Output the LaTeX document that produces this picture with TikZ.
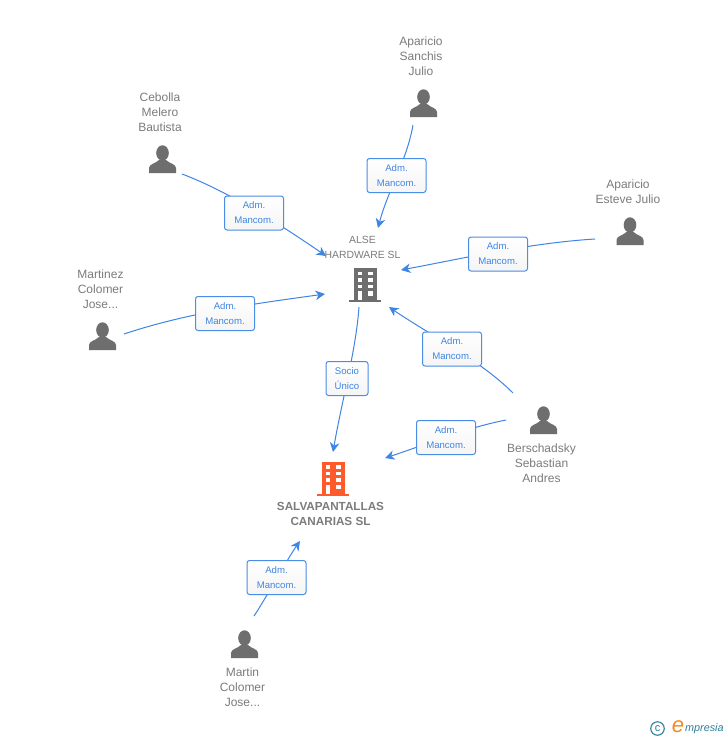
\documentclass[tikz,border=0pt]{standalone}
\usepackage{fontspec}
\setmainfont{Liberation Sans}
\definecolor{txt}{HTML}{7C7C7C}
\definecolor{icon}{HTML}{6E6E6E}
\definecolor{edge}{HTML}{3F85E4}
\definecolor{boxline}{HTML}{4A8DE6}
\definecolor{hot}{HTML}{FF5A2B}
\definecolor{teal}{HTML}{2F7F9B}
\definecolor{orng}{HTML}{F28A1E}
\newcommand{\personicon}[2]{%
 \begin{scope}[shift={(#1,#2)}]
  \fill[icon] (0,-6.5) ellipse (6.3 and 7.7);
  \fill[icon] (-13.5,13.5) -- (-13.5,8.5) .. controls (-13.5,4.5) and (-7,4) .. (-3.5,0.5) -- (3.5,0.5) .. controls (7,4) and (13.5,4.5) .. (13.5,8.5) -- (13.5,13.5) -- cycle;
 \end{scope}}
\newcommand{\buildingicon}[3]{%
 \begin{scope}[shift={(#1,#2)}]
  \fill[#3] (-11.5,-17) rectangle (11.5,15);
  \fill[#3] (-16,15) rectangle (16,17.3);
  \foreach \yy in {-13.5,-7,-0.5} {
   \fill[white] (-7.5,\yy) rectangle (-2.7,\yy+3.9);
   \fill[white] (2.5,\yy) rectangle (7.5,\yy+3.9);}
  \fill[white] (-7.5,6) rectangle (-3,15);
  \fill[white] (2.5,6) rectangle (7.5,10.5);
 \end{scope}}
\tikzset{
 x=1pt,y=-1pt,
 lbl/.style={align=center,text=txt,font=\fontsize{12}{15}\selectfont,inner sep=0pt},
 smalllbl/.style={align=center,text=txt,font=\fontsize{10.4}{15}\selectfont,inner sep=0pt},
 mainlbl/.style={align=center,text=txt,font=\fontsize{11.7}{15}\selectfont\bfseries,inner sep=0pt},
 relbox/.style={draw=boxline,line width=1pt,rounded corners=2.5pt,top color=white,bottom color=black!4,
   minimum width=59pt,minimum height=34pt,inner sep=0pt,align=center,text=edge,
   font=\fontsize{9.6}{15}\selectfont},
 socbox/.style={relbox,minimum width=42pt},
 rel/.style={draw=edge,line width=1pt,-{Stealth[length=9.5pt,width=9.5pt,inset=3pt]}},
}
\usetikzlibrary{arrows.meta}
\begin{document}
\begin{tikzpicture}
\useasboundingbox (0,0) rectangle (728,740);
\fill[white] (0,0) rectangle (728,740);
% end points
\coordinate (a1) at (413,125); \coordinate (b1) at (378,228);
\coordinate (a2) at (182,174); \coordinate (b2) at (326,256);
\coordinate (a3) at (595,239); \coordinate (b3) at (401,270);
\coordinate (a4) at (124,334); \coordinate (b4) at (325,294);
\coordinate (a5) at (513,393); \coordinate (b5) at (389,307);
\coordinate (a6) at (506,420); \coordinate (b6) at (385,458);
\coordinate (a7) at (359,307); \coordinate (b7) at (333,452);
\coordinate (a8) at (254,616); \coordinate (b8) at (300,541);
% connectors
\draw[rel] (a1) .. controls (407,160) and (388,190) .. (b1);
\draw[rel] (a2) .. controls (225,190) and (280,224) .. (b2);
\draw[rel] (a3) .. controls (530,243) and (465,258) .. (b3);
\draw[rel] (a4) .. controls (190,312) and (260,303) .. (b4);
\draw[rel] (a5) .. controls (480,360) and (430,335) .. (b5);
\draw[rel] (a6) .. controls (465,428) and (425,445) .. (b6);
\draw[rel] (a7) .. controls (356,350) and (342,400) .. (b7);
\draw[rel] (a8) .. controls (263,603) and (288,558) .. (b8);
% relation boxes
\node[relbox] (r1) at (396.5,175.5) {Adm.\\Mancom.};
\node[relbox] (r2) at (254,213) {Adm.\\Mancom.};
\node[relbox] (r3) at (498,254) {Adm.\\Mancom.};
\node[relbox] (r4) at (225,313.5) {Adm.\\Mancom.};
\node[relbox] (r5) at (452,349) {Adm.\\Mancom.};
\node[relbox] (r6) at (446,437.5) {Adm.\\Mancom.};
\node[socbox] (r7) at (347,378.5) {Socio\\Único};
\node[relbox] (r8) at (276.5,577.5) {Adm.\\Mancom.};
% people
\personicon{423.5}{103.5}
\personicon{162.5}{159.5}
\personicon{630}{231.5}
\personicon{102.5}{336.5}
\personicon{543.5}{420.5}
\personicon{244.5}{644.5}
\node[lbl] (p1) at (421,56) {Aparicio\\Sanchis\\Julio};
\node[lbl] (p2) at (160,112) {Cebolla\\Melero\\Bautista};
\node[lbl] (p3) at (628,191.5) {Aparicio\\Esteve Julio};
\node[lbl] (p4) at (100.5,289.5) {Martinez\\Colomer\\Jose...};
\node[lbl] (p5) at (541.5,463) {Berschadsky\\Sebastian\\Andres};
\node[lbl] (p6) at (242.5,687) {Martin\\Colomer\\Jose...};
% companies
\buildingicon{365}{285}{icon}
\buildingicon{333}{478.5}{hot}
\node[smalllbl] (c1) at (362.5,247) {ALSE\\HARDWARE SL};
\node[mainlbl] (c2) at (330.5,514) {SALVAPANTALLAS\\CANARIAS SL};
% logo
\node[draw=teal,circle,line width=1.1pt,minimum size=13.5pt,inner sep=0pt,text=teal,font=\fontsize{11}{11}\selectfont] (l1) at (657.5,728.5) {c};
\node[text=orng,inner sep=0pt,font=\fontsize{22}{22}\selectfont\itshape] (l2) at (678,727) {e};
\node[anchor=west,text=teal,inner sep=0pt,font=\fontsize{10.8}{12}\selectfont\itshape] (l3) at (685,729) {mpresia};
\end{tikzpicture}
\end{document}
